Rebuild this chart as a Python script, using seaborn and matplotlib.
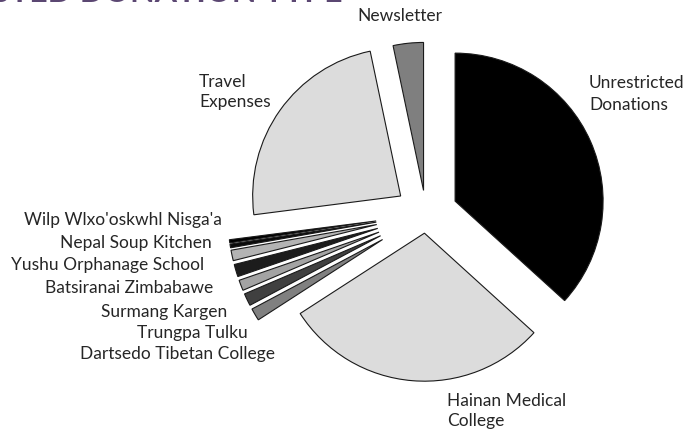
import matplotlib
matplotlib.use("Agg")
import matplotlib.pyplot as plt
import seaborn as sns

sns.set_theme(style="white")
plt.rcParams['font.family'] = ['Lato', 'DejaVu Sans']

# Slices in clockwise order starting at 12 o'clock (percent of total)
categories = ["Unrestricted\nDonations", "Hainan Medical\nCollege",
              "Dartsedo Tibetan College", "Trungpa Tulku", "Surmang Kargen",
              "Batsiranai Zimbabawe", "Yushu Orphanage School",
              "Nepal Soup Kitchen", "Wilp Wlxo'oskwhl Nisga'a",
              "Travel\nExpenses", "Newsletter"]
shares = [36.7, 29.1, 1.35, 1.35, 1.15, 1.35, 1.15, 0.4, 0.35, 23.7, 3.3]
colors = ["#000000", "#dcdcdc", "#808080", "#404040", "#a3a3a3",
          "#1c1c1c", "#b3b3b3", "#0a0a0a", "#000000", "#dcdcdc", "#7f7f7f"]
explode = [0.215, 0.13, 0.34, 0.34, 0.34, 0.34, 0.34, 0.34, 0.34, 0.21, 0.16]

W, H = 699, 430
CX, CY, R = 426, 214, 148   # pie centre and radius in pixels


def px(x, y):
    # pixel position -> data coords (radius = 1)
    return (x - CX) / R, (CY - y) / R


fig = plt.figure(figsize=(W / 100, H / 100), dpi=100)
ax = fig.add_axes([0, 0, 1, 1])
ax.pie(shares, colors=colors, explode=explode, startangle=90,
       counterclock=False, wedgeprops=dict(edgecolor="#1a1a1a", linewidth=0.8))
ax.set_aspect("auto")
ax.set_xlim(-CX / R, (W - CX) / R)
ax.set_ylim(-(H - CY) / R, CY / R)
ax.axis("off")

# labels
lab_fs = 12.5
ax.text(*px(400, 16), "Newsletter", ha="center", va="center", fontsize=lab_fs)
ax.text(*px(589, 94), categories[0], ha="left", va="center", fontsize=lab_fs,
        linespacing=1.4)
ax.text(*px(199, 92), categories[9], ha="left", va="center", fontsize=lab_fs,
        linespacing=1.3)
ax.text(*px(447, 411), categories[1], ha="left", va="center", fontsize=lab_fs,
        linespacing=1.35)

small_pos = {
    "Wilp Wlxo'oskwhl Nisga'a": (222, 220),
    "Nepal Soup Kitchen": (212, 243),
    "Yushu Orphanage School": (204, 265),
    "Batsiranai Zimbabawe": (213, 288),
    "Surmang Kargen": (227, 312),
    "Trungpa Tulku": (248, 333),
    "Dartsedo Tibetan College": (275, 354),
}
for name, (x, y) in small_pos.items():
    ax.text(*px(x, y), name, ha="right", va="center", fontsize=lab_fs)

# title, mostly cut off by the top edge
fig.text(343 / W, 1 - 2 / H, "DONATIONS BY REQUESTED DONATION TYPE",
         ha="right", va="baseline", fontsize=23, fontweight="bold",
         color="#5b4772")

fig.savefig("out.png", dpi=100)
